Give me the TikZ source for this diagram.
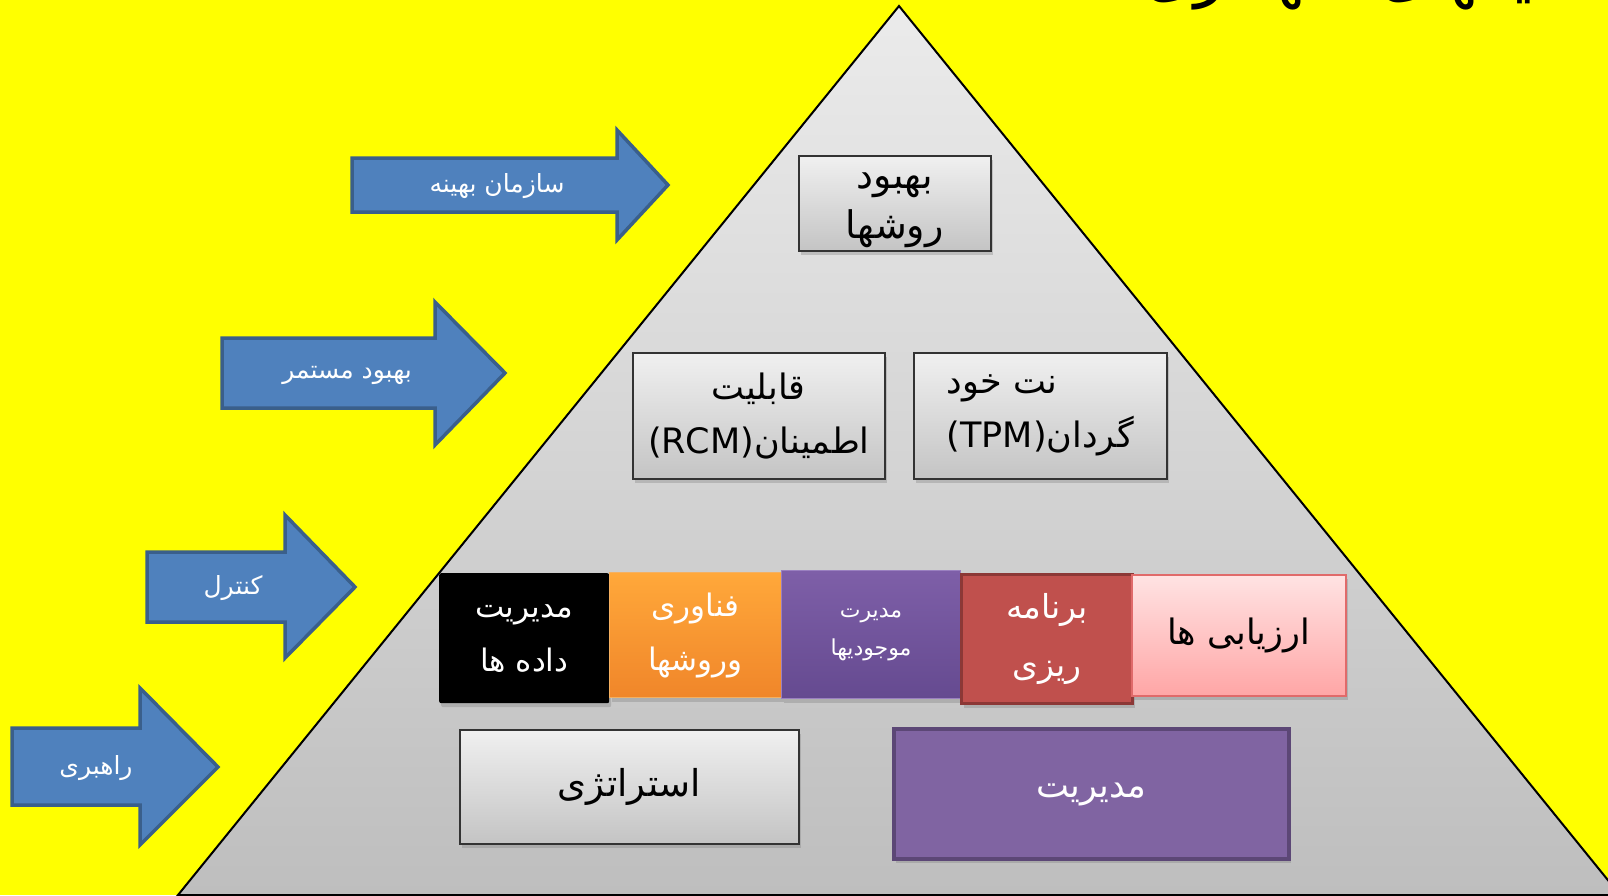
\documentclass[tikz,border=0pt]{standalone}
\usepackage{fontspec}
\newfontfamily\arabicfont[Script=Arabic]{DejaVu Sans}
\TeXXeTstate=1
\usetikzlibrary{shadows}
\definecolor{bgyellow}{HTML}{FFFF00}
\definecolor{arrowfill}{HTML}{4F81BD}
\definecolor{arrowline}{HTML}{3A5F8B}
\definecolor{trtop}{HTML}{EBEBEB}
\definecolor{trbot}{HTML}{BEBEBE}
\definecolor{gbtop}{HTML}{F0F0F0}
\definecolor{gbbot}{HTML}{C4C4C4}
\definecolor{orgtop}{HTML}{FFA83A}
\definecolor{orgbot}{HTML}{F0862A}
\definecolor{orgline}{HTML}{F5B060}
\definecolor{purtop}{HTML}{7E5FA8}
\definecolor{purbot}{HTML}{654A90}
\definecolor{purline}{HTML}{9A80C0}
\definecolor{redfill}{HTML}{C0504D}
\definecolor{redline}{HTML}{8C3836}
\definecolor{pinktop}{HTML}{FFE3E3}
\definecolor{pinkbot}{HTML}{FFA6A6}
\definecolor{pinkline}{HTML}{E06A6A}
\definecolor{mgmtfill}{HTML}{8064A2}
\definecolor{mgmtline}{HTML}{5C4776}
\newcommand\ar[1]{\beginR#1\endR}
\tikzset{
  bluearrow/.style={fill=arrowfill, draw=arrowline, line width=3.5pt, line join=miter},
  arrowtext/.style={text=white, font=\arabicfont\fontsize{25}{30}\selectfont, inner sep=0pt},
  basebox/.style={rectangle, anchor=north west, inner sep=0pt, align=center,
     drop shadow={opacity=0.35, shadow xshift=2pt, shadow yshift=-4pt}},
  graybox/.style={basebox, top color=gbtop, bottom color=gbbot, draw=black!80, line width=1.6pt, text=black},
  blackbox/.style={basebox, fill=black, rounded corners=2pt, text=white},
  orangebox/.style={basebox, top color=orgtop, bottom color=orgbot, draw=orgline, line width=1pt, text=white},
  purplebox/.style={basebox, top color=purtop, bottom color=purbot, draw=purline, line width=1pt, text=white},
  redbox/.style={basebox, fill=redfill, draw=redline, line width=3pt, text=white},
  pinkbox/.style={basebox, top color=pinktop, bottom color=pinkbot, draw=pinkline, line width=1.5pt, text=black},
  mgmtbox/.style={basebox, fill=mgmtfill, draw=mgmtline, line width=4pt, text=white},
}
\begin{document}
\begin{tikzpicture}[x=1pt,y=-1pt]
\clip (0,0) rectangle (1608,895);
\fill[bgyellow] (0,0) rectangle (1608,895);
% title (cut off at top)
\node[anchor=base east, inner sep=0pt, font=\arabicfont\fontsize{64}{70}\selectfont] (title) at (1606,-6) {\ar{تکنیکهای نگهداری}};
% pyramid
\shade[top color=trtop, bottom color=trbot] (899,6) -- (178,895) -- (1620,895) -- cycle;
\draw[black, line width=2pt, line join=miter] (899,6) -- (178,895) -- (1620,895) -- cycle;
% arrows
\draw[bluearrow] (352,158) -- (617,158) -- (617,130) -- (668,185) -- (617,240) -- (617,212) -- (352,212) -- cycle;
\node[arrowtext] (a1) at (497,186) {\ar{سازمان بهینه}};
\draw[bluearrow] (222,338) -- (435,338) -- (435,302) -- (505,373) -- (435,445) -- (435,408) -- (222,408) -- cycle;
\node[arrowtext] (a2) at (347,375) {\ar{بهبود مستمر}};
\draw[bluearrow] (147,552) -- (285,552) -- (285,515) -- (355,587) -- (285,658) -- (285,622) -- (147,622) -- cycle;
\node[arrowtext] (a3) at (233,588) {\ar{کنترل}};
\draw[bluearrow] (12,728) -- (140,728) -- (140,688) -- (218,767) -- (140,845) -- (140,805) -- (12,805) -- cycle;
\node[arrowtext] (a4) at (96,768) {\ar{راهبری}};
% top box
\node[graybox, minimum width=192pt, minimum height=95pt] (b1) at (798,155) {};
\node[inner sep=0pt, align=center, font=\arabicfont\fontsize{38}{50}\selectfont] (b1t) at ([yshift=-7pt]b1.center) {\ar{بهبود}\\\ar{روشها}};
% middle boxes
\node[graybox, minimum width=252pt, minimum height=126pt, font=\arabicfont\fontsize{35}{54}\selectfont] (rcm) at (632,352) {\ar{قابلیت}\\\ar{اطمینان\beginL(RCM)\endL}};
\node[graybox, minimum width=253pt, minimum height=126pt, align=left, font=\arabicfont\fontsize{35}{54}\selectfont] (tpm) at (913,352) {\ar{نت خود}\\\ar{گردان\beginL(TPM)\endL}};
% row of coloured boxes
\node[blackbox, minimum width=170pt, minimum height=130pt, font=\arabicfont\fontsize{31}{54}\selectfont] (data) at (439,573) {\ar{مدیریت}\\\ar{داده ها}};
\node[orangebox, minimum width=172pt, minimum height=125pt, font=\arabicfont\fontsize{31}{54}\selectfont] (tech) at (609,572) {\ar{فناوری}\\\ar{وروشها}};
\node[purplebox, minimum width=179pt, minimum height=128pt, font=\arabicfont\fontsize{22}{38}\selectfont] (inv) at (781,570) {\ar{مدیرت}\\\ar{موجودیها}};
\node[redbox, minimum width=171pt, minimum height=129pt, font=\arabicfont\fontsize{33}{58}\selectfont] (plan) at (960,573) {\ar{برنامه}\\\ar{ریزی}};
\node[pinkbox, minimum width=214pt, minimum height=121pt, font=\arabicfont\fontsize{35}{44}\selectfont] (eval) at (1131,574) {\ar{ارزیابی ها}};
% bottom boxes
\node[graybox, minimum width=339pt, minimum height=114pt, font=\arabicfont\fontsize{37}{44}\selectfont] (strat) at (459,729) {\ar{استراتژی}};
\node[mgmtbox, minimum width=395pt, minimum height=130pt, font=\arabicfont\fontsize{35}{44}\selectfont] (mgmt) at (892,727) {\ar{مدیریت}};
\end{tikzpicture}
\end{document}
